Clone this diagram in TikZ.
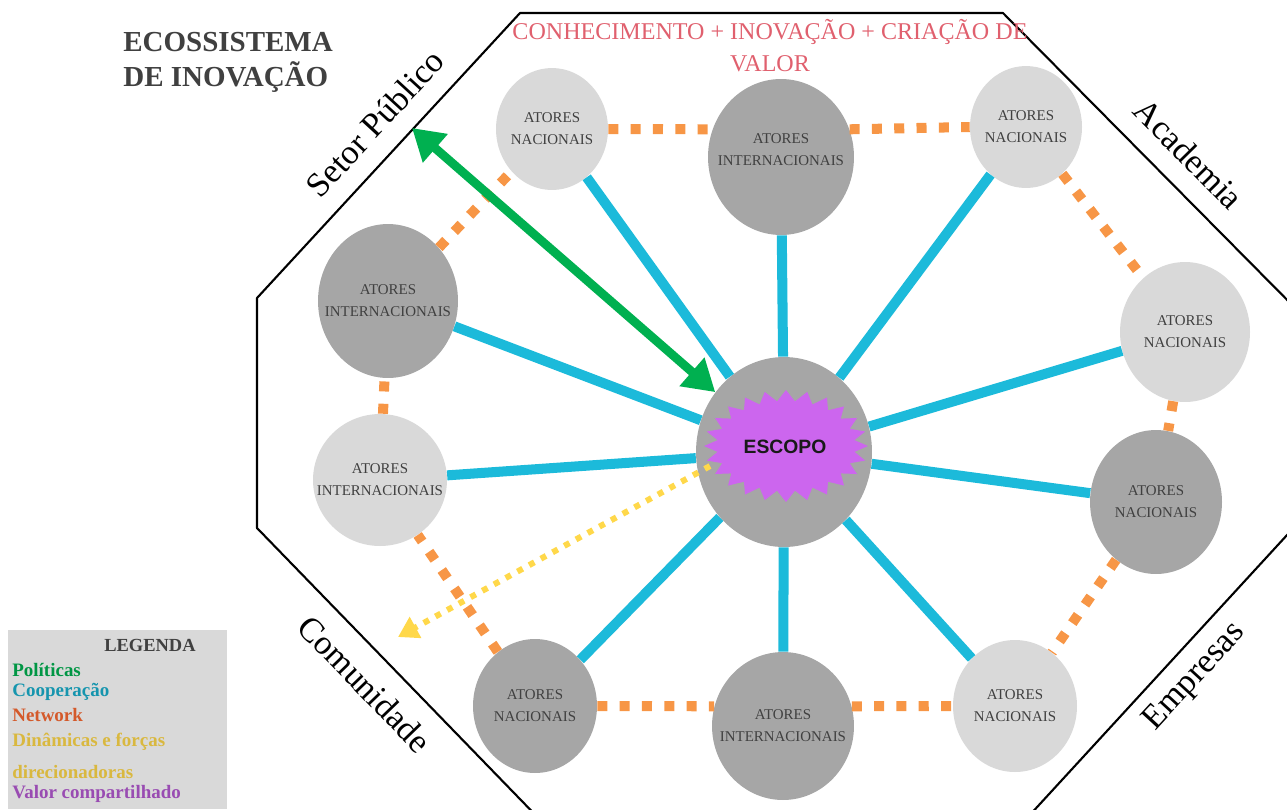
\documentclass[tikz,border=0pt]{standalone}
\usepackage{fontspec}
\setmainfont{Liberation Serif}
\newfontfamily\escopofont{Liberation Sans}
\usetikzlibrary{shapes.geometric,arrows.meta}
\definecolor{cinzaclaro}{HTML}{D9D9D9}
\definecolor{cinzaescuro}{HTML}{A6A6A6}
\definecolor{cinzatexto}{HTML}{404040}
\definecolor{azulcoop}{HTML}{1CBADA}
\definecolor{laranjanet}{HTML}{F79646}
\definecolor{verdepol}{HTML}{00B050}
\definecolor{amarelodin}{HTML}{FFD84A}
\definecolor{roxovalor}{HTML}{CC66EE}
\definecolor{vermelhotit}{HTML}{E0606E}
\begin{document}
\begin{tikzpicture}[x=0.02cm,y=-0.02cm,line join=round,
	claro/.style={ellipse,fill=cinzaclaro},
	escuro/.style={ellipse,fill=cinzaescuro},
	rotulo/.style={align=center,text=cinzatexto,font=\fontsize{8.5}{12.5}\selectfont},
	coop/.style={azulcoop,line width=5.7pt},
	net/.style={laranjanet,line width=5.7pt,dash pattern=on 5.7pt off 7pt},
	setor/.style={inner sep=0pt,font=\fontsize{19.5}{22}\selectfont},
	leg/.style={anchor=west,inner sep=0pt,font=\bfseries\fontsize{10.8}{13}\selectfont}]
		\useasboundingbox (0,0) rectangle (1287,809);
		\begin{scope}
			\clip (0,0) rectangle (1287,809);
			\draw[line width=1.2pt] (520,13)--(1003,13)--(1310,323)--(1310,510)--(1016,830)--(550,830)--(257,528)--(257,298)--cycle;
		\end{scope}
		\node[setor,rotate=47.4] (setorpub) at (375,123) {Setor Público};
		\node[setor,rotate=-45.5] (academia) at (1189,154) {Academia};
		\node[setor,rotate=-46] (comunidade) at (365,684) {Comunidade};
		\node[setor,rotate=47.4] (empresas) at (1195,677) {Empresas};
		\node[anchor=west,inner sep=0pt,align=left,text=cinzatexto,font=\bfseries\fontsize{16.5}{19.8}\selectfont] (titulo) at (123,62) {ECOSSISTEMA\\DE INOVAÇÃO};
		\node[inner sep=0pt,align=center,text=vermelhotit,font=\fontsize{13.7}{18.2}\selectfont] (lema) at (770,46) {CONHECIMENTO + INOVAÇÃO + CRIAÇÃO DE\\VALOR};
		\node[escuro,minimum width=3.52cm,minimum height=3.8cm] (escopo) at (784,452) {};
		\node[claro,minimum width=2.24cm,minimum height=2.44cm,label={[rotulo]center:ATORES\\NACIONAIS}] (nac1) at (552,129) {};
		\node[escuro,minimum width=2.92cm,minimum height=3.12cm,label={[rotulo,yshift=0.15cm]center:ATORES\\INTERNACIONAIS}] (int1) at (781,157) {};
		\node[claro,minimum width=2.24cm,minimum height=2.44cm,label={[rotulo]center:ATORES\\NACIONAIS}] (nac2) at (1026,127) {};
		\node[claro,minimum width=2.6cm,minimum height=2.8cm,label={[rotulo]center:ATORES\\NACIONAIS}] (nac3) at (1185,332) {};
		\node[escuro,minimum width=2.64cm,minimum height=2.88cm,label={[rotulo]center:ATORES\\NACIONAIS}] (nac4) at (1156,502) {};
		\node[claro,minimum width=2.48cm,minimum height=2.64cm,label={[rotulo]center:ATORES\\NACIONAIS}] (nac5) at (1015,706) {};
		\node[escuro,minimum width=2.84cm,minimum height=2.96cm,label={[rotulo]center:ATORES\\INTERNACIONAIS}] (int3) at (783,726) {};
		\node[escuro,minimum width=2.48cm,minimum height=2.68cm,label={[rotulo]center:ATORES\\NACIONAIS}] (nac6) at (535,706) {};
		\node[claro,minimum width=2.68cm,minimum height=2.64cm,label={[rotulo]center:ATORES\\INTERNACIONAIS}] (int4) at (380,480) {};
		\node[escuro,minimum width=2.8cm,minimum height=3.08cm,label={[rotulo]center:ATORES\\INTERNACIONAIS}] (int2) at (388,301) {};
		\foreach \n in {nac1,int1,nac2,nac3,nac4,nac5,int3,nac6,int4,int2} \draw[coop] (escopo)--(\n);
		\draw[net] (nac1.east)--(int1.158);
		\draw[net] (int1.22)--(nac2.west);
		\draw[net] (nac6.east)--(int3.164);
		\draw[net] (int3.16)--(nac5.west);
		\foreach \a/\b in {nac2/nac3,nac3/nac4,nac4/nac5,nac6/int4,int4/int2,int2/nac1} \draw[net] (\a)--(\b);
		\fill[roxovalor] plot[samples at={0,...,47}] ({786+ifthenelse(mod(\x,2)==0,82,69)*cos(\x*7.5)},{446+ifthenelse(mod(\x,2)==0,56,45)*sin(\x*7.5)})--cycle;
		\node[font=\escopofont\bfseries\fontsize{11}{13}\selectfont,text=black!90] (escopotxt) at (785,447) {ESCOPO};
		\coordinate (politica) at (412,128);
		\draw[verdepol,line width=5pt,{Triangle[length=0.62cm,width=0.72cm]}-{Triangle[length=0.62cm,width=0.72cm]}] (escopo)--(politica);
		\coordinate (estrela) at (710,466);
		\coordinate (dinamica) at (398,637);
		\draw[amarelodin,line width=3.4pt,dash pattern=on 3.4pt off 4.2pt,-{Triangle[length=0.4cm,width=0.46cm]}] (estrela)--(dinamica);
		\fill[cinzaclaro] (8,630) rectangle (227,809);
		\node[inner sep=0pt,text=cinzatexto,font=\bfseries\fontsize{10.5}{12}\selectfont] (legenda) at (150,645) {LEGENDA};
		\node[leg,text=verdepol!85!black] (politicas) at (12,670) {Políticas};
		\node[leg,text=azulcoop!80!black] (cooperacao) at (12,692) {Cooperação};
		\node[leg,text=laranjanet!70!red!85!black] (network) at (12,715) {Network};
		\node[leg,text=amarelodin!85!black] (dinamicas) at (12,742) {Dinâmicas e forças};
		\node[leg,text=amarelodin!85!black] (direcionadoras) at (12,772) {direcionadoras};
		\node[leg,text=roxovalor!75!black] (valor) at (12,794) {Valor compartilhado};
\end{tikzpicture}
\end{document}
